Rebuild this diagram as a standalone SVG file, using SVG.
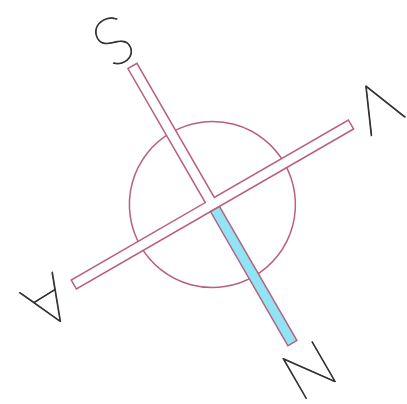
<svg xmlns="http://www.w3.org/2000/svg" width="407" height="404" viewBox="0 0 407 404">
<style>
.ol{stroke:#b8607e;stroke-width:1.5;stroke-linejoin:miter}
.lt{font-family:Lato,"Liberation Sans",sans-serif;font-weight:100;font-size:66px;fill:#333;stroke:#333;stroke-width:0.9;text-anchor:middle}
</style>
<rect width="407" height="404" fill="#fff"/>
<g id="compass" transform="translate(212.4,204.5) rotate(150)">
<circle id="ring" class="ol" cx="0" cy="0" r="83" fill="none"/>
<g id="bars">
<path id="cross" class="ol" fill="#fff" d="M-160,-5.2 H160 V5.2 H5.2 V160 H-5.2 V5.2 H-160 Z"/>
<rect id="needle" class="ol" fill="#90e4f4" x="-5.2" y="-160" width="10.4" height="154.8"/>
</g>
</g>
<g id="label-S" transform="translate(114,41) rotate(150)"><text class="lt" x="0" y="23">S</text></g>
<g id="label-N" transform="translate(309,370) rotate(150)"><text class="lt" x="0" y="23">N</text></g>
<g id="label-A" transform="translate(48,302) rotate(148)"><text class="lt" x="0" y="23">A</text></g>
<g id="label-V" transform="translate(377,106) rotate(151)"><text class="lt" x="0" y="23">V</text></g>
</svg>
